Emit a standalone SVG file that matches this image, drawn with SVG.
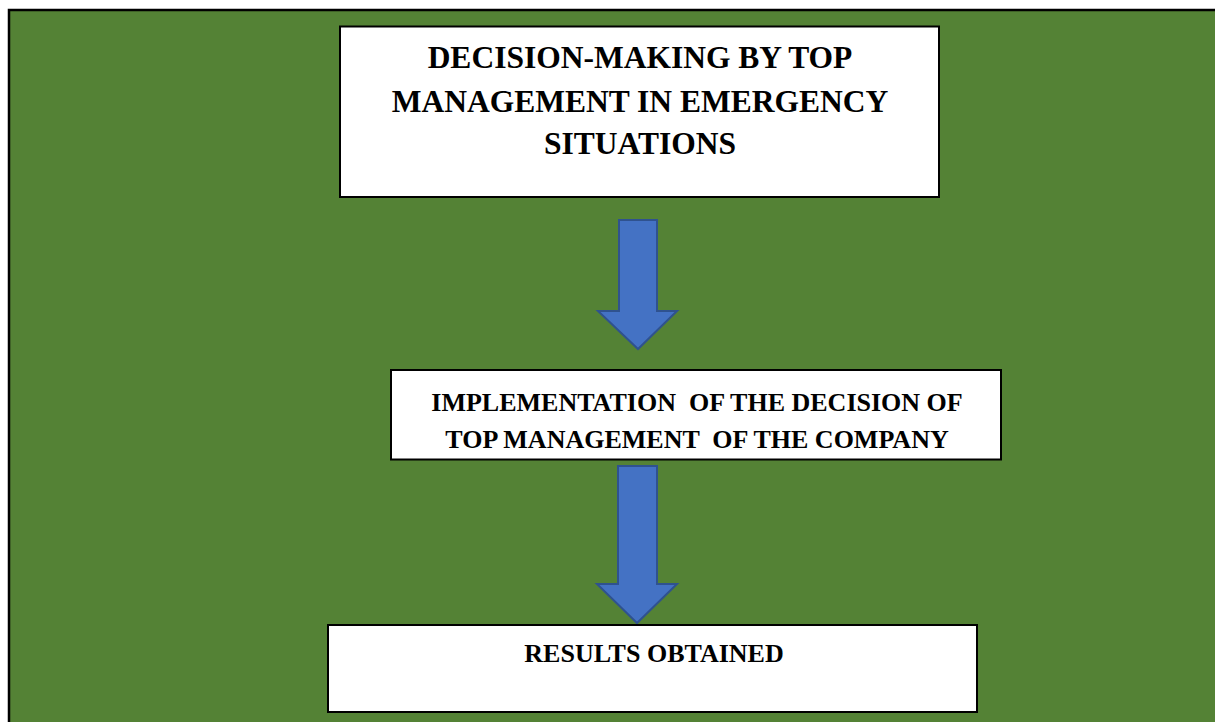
<svg xmlns="http://www.w3.org/2000/svg" width="1215" height="722" viewBox="0 0 1215 722">
<defs>
<style>
.box{fill:#ffffff;stroke:#000000;stroke-width:2}
.t{font-family:"Liberation Serif","Times New Roman",serif;font-weight:bold;fill:#000000;text-anchor:middle}
.arrow{fill:#4472C4;stroke:#2F528F;stroke-width:2;stroke-linejoin:miter}
</style>
</defs>
<rect x="0" y="0" width="1215" height="722" fill="#ffffff"/>
<rect x="9" y="10" width="1220" height="725" fill="#548235" stroke="#000000" stroke-width="2.5"/>
<g id="connectors">
<path class="arrow" d="M619,220 H657 V311 H677 L638,349 L598,311 H619 Z"/>
<path class="arrow" d="M618,466 H657 V584 H677 L637,623 L597,584 H618 Z"/>
</g>
<g id="node-decision">
<rect class="box" x="340" y="26.5" width="599" height="170.5"/>
<text class="t" font-size="31.5" x="640" y="68">DECISION-MAKING BY TOP</text>
<text class="t" font-size="31.5" x="640" y="111.5">MANAGEMENT IN EMERGENCY</text>
<text class="t" font-size="31.5" x="640" y="153.5">SITUATIONS</text>
</g>
<g id="node-implementation">
<rect class="box" x="391" y="370" width="610" height="89.5"/>
<text class="t" font-size="26" x="697" y="411" xml:space="preserve">IMPLEMENTATION  OF THE DECISION OF</text>
<text class="t" font-size="26" x="697" y="448" xml:space="preserve">TOP MANAGEMENT  OF THE COMPANY</text>
</g>
<g id="node-results">
<rect class="box" x="328" y="625" width="649" height="87"/>
<text class="t" font-size="26" x="654" y="662">RESULTS OBTAINED</text>
</g>
</svg>
